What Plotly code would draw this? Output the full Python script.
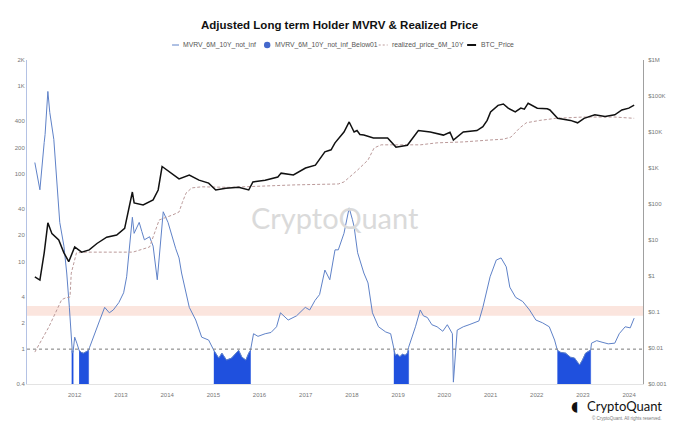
import plotly.graph_objects as go
import math

# ---------------- data ----------------
MVRV_DATES = [
    "2011-02-20", "2011-04-01", "2011-05-05", "2011-05-12", "2011-06-03", "2011-06-18",
    "2011-07-20", "2011-08-05", "2011-09-05", "2011-10-08", "2011-10-30", "2011-11-20",
    "2011-12-08", "2011-12-14", "2011-12-20", "2012-01-01", "2012-01-18", "2012-02-05",
    "2012-02-20", "2012-03-10", "2012-03-30", "2012-04-20", "2012-04-28", "2012-06-05",
    "2012-07-15", "2012-08-25", "2012-10-01", "2012-11-01", "2012-12-15", "2013-01-22",
    "2013-02-15", "2013-03-05", "2013-04-01", "2013-04-15", "2013-05-25", "2013-06-15",
    "2013-07-05", "2013-08-15", "2013-09-12", "2013-10-15", "2013-10-30", "2013-12-01",
    "2014-01-08", "2014-02-15", "2014-03-10", "2014-04-05", "2014-04-25", "2014-06-25",
    "2014-08-15", "2014-10-01", "2014-11-25", "2015-01-05", "2015-02-13", "2015-03-10",
    "2015-04-15", "2015-05-25", "2015-07-05", "2015-07-20", "2015-08-15", "2015-09-15",
    "2015-10-08", "2015-10-22", "2015-11-15", "2015-12-20", "2016-02-15", "2016-04-01",
    "2016-05-15", "2016-06-15", "2016-08-15", "2016-10-20", "2016-12-28", "2017-02-01",
    "2017-03-15", "2017-04-20", "2017-06-01", "2017-07-10", "2017-08-20", "2017-09-15",
    "2017-10-30", "2017-12-10", "2018-01-05", "2018-01-18", "2018-02-15", "2018-03-10",
    "2018-04-05", "2018-05-08", "2018-06-12", "2018-07-30", "2018-09-25", "2018-11-03",
    "2018-11-28", "2018-12-10", "2018-12-25", "2019-01-15", "2019-02-05", "2019-02-25",
    "2019-03-15", "2019-03-25", "2019-05-18", "2019-06-25", "2019-07-20", "2019-08-20",
    "2019-09-25", "2019-11-05", "2019-12-20", "2020-01-25", "2020-03-05", "2020-03-13",
    "2020-04-12", "2020-05-30", "2020-07-15", "2020-08-20", "2020-10-01", "2020-11-01",
    "2020-12-01", "2020-12-28", "2021-02-15", "2021-03-25", "2021-05-05", "2021-06-02",
    "2021-07-18", "2021-09-12", "2021-11-05", "2021-12-25", "2022-02-15", "2022-04-10",
    "2022-05-22", "2022-06-13", "2022-07-08", "2022-08-17", "2022-09-24", "2022-10-27",
    "2022-12-05", "2022-12-28", "2023-01-22", "2023-02-24", "2023-03-03", "2023-03-10",
    "2023-04-20", "2023-06-01", "2023-07-20", "2023-09-10", "2023-10-15", "2023-12-01",
    "2024-01-10", "2024-02-10",
]
MVRV_VALUES = [
    135, 66, 229, 282, 875, 505,
    248, 112, 28, 15, 7.4, 3.0,
    0.97, 0.9, 0.95, 1.37, 1.17, 0.97,
    0.92, 0.9, 0.93, 0.97, 1.05, 1.5,
    2.1, 3.0, 2.6, 2.8, 3.4, 4.4,
    6.7, 12.6, 32, 21, 28, 22,
    17.7, 19.2, 15, 6.2, 10.4, 37,
    28, 17.7, 14, 11, 7.4, 3.0,
    2.15, 1.37, 1.27, 0.97, 0.79, 0.9,
    0.75, 0.79, 0.9, 0.97, 0.81, 0.75,
    0.9, 0.97, 1.5, 1.4, 1.5, 1.55,
    1.8, 2.6, 2.15, 2.4, 3.0, 2.8,
    3.6, 4.2, 8.0, 6.2, 13.6, 13.6,
    21, 41, 30, 25, 12.6, 10,
    7.4, 5.7, 2.6, 1.8, 1.57, 1.5,
    0.97, 0.85, 0.88, 0.82, 0.88, 0.85,
    0.9, 1.05, 1.8, 2.8, 2.4, 2.3,
    1.9, 1.8, 1.6, 1.9, 1.5, 0.42,
    1.65, 1.8, 1.9, 2.0, 2.1, 3.0,
    4.6, 6.7, 10.4, 11, 8.7, 5.1,
    3.9, 3.5, 2.8, 2.15, 2.0, 1.8,
    1.27, 0.97, 0.92, 0.9, 0.81, 0.79,
    0.66, 0.75, 0.9, 0.97, 0.97, 1.17,
    1.25, 1.2, 1.15, 1.17, 1.5, 1.8,
    1.75, 2.26,
]

# periods where MVRV is below 1 (drawn as blue filled columns)
BELOW01_SEGMENTS_DATES = [
    ["2011-12-08", "2011-12-14", "2011-12-20"],
    ["2012-02-05", "2012-02-20", "2012-03-10", "2012-03-30", "2012-04-20"],
    ["2015-01-05", "2015-02-13", "2015-03-10", "2015-04-15", "2015-05-25", "2015-07-05",
     "2015-07-20", "2015-08-15", "2015-09-15", "2015-10-08", "2015-10-22"],
    ["2018-11-28", "2018-12-10", "2018-12-25", "2019-01-15", "2019-02-05", "2019-02-25",
     "2019-03-15", "2019-03-25"],
    ["2022-06-13", "2022-07-08", "2022-08-17", "2022-09-24", "2022-10-27", "2022-12-05",
     "2022-12-28", "2023-01-22", "2023-02-24", "2023-03-03"],
]
BELOW01_SEGMENTS_VALUES = [
    [0.97, 0.9, 0.95],
    [0.97, 0.92, 0.9, 0.93, 0.97],
    [0.97, 0.79, 0.9, 0.75, 0.79, 0.9, 0.97, 0.81, 0.75, 0.9, 0.97],
    [0.97, 0.85, 0.88, 0.82, 0.88, 0.85, 0.9, 0.97],
    [0.97, 0.92, 0.9, 0.81, 0.79, 0.66, 0.75, 0.9, 0.97, 0.97],
]

BTC_DATES = [
    "2011-02-20", "2011-04-01", "2011-05-05", "2011-06-03", "2011-07-05", "2011-08-28",
    "2011-10-08", "2011-11-15", "2012-01-01", "2012-02-25", "2012-04-25", "2012-06-25",
    "2012-09-10", "2012-11-28", "2013-01-30", "2013-03-05", "2013-04-01", "2013-04-15",
    "2013-06-25", "2013-09-12", "2013-10-22", "2013-11-22", "2014-01-18", "2014-02-25",
    "2014-04-05", "2014-06-25", "2014-09-10", "2014-11-25", "2015-01-20", "2015-04-10",
    "2015-07-20", "2015-10-08", "2015-11-10", "2016-02-15", "2016-05-25", "2016-06-20",
    "2016-09-25", "2016-12-30", "2017-03-18", "2017-06-01", "2017-07-20", "2017-08-20",
    "2017-10-30", "2017-12-10", "2018-01-18", "2018-02-10", "2018-03-05", "2018-04-05",
    "2018-06-20", "2018-10-10", "2018-12-15", "2019-03-15", "2019-06-10", "2019-09-12",
    "2019-12-25", "2020-02-15", "2020-03-13", "2020-05-30", "2020-09-15", "2020-11-01",
    "2020-12-05", "2021-01-01", "2021-03-01", "2021-04-12", "2021-05-20", "2021-07-15",
    "2021-08-28", "2021-09-25", "2021-10-25", "2022-01-05", "2022-03-25", "2022-04-15",
    "2022-06-15", "2022-09-25", "2022-11-20", "2023-01-10", "2023-04-05", "2023-06-25",
    "2023-09-10", "2023-11-05", "2023-12-30", "2024-02-10",
]
BTC_VALUES = [
    0.94, 0.77, 4.4, 30, 15, 10,
    4.4, 2.5, 6.4, 4.6, 5.3, 8,
    12, 13.7, 21, 83, 215, 107,
    94, 130, 245, 1100, 780, 600,
    500, 640, 460, 380, 245, 275,
    290, 245, 410, 460, 560, 720,
    640, 1000, 1200, 2800, 3200, 5000,
    10000, 19000, 10000, 11000, 8500, 8200,
    6800, 6800, 3800, 4300, 11000, 10000,
    8200, 9800, 6000, 10000, 11000, 14000,
    21000, 36000, 55000, 60000, 46000, 36000,
    46000, 43000, 63000, 46000, 44000, 41000,
    24000, 21000, 18000, 24000, 30000, 27000,
    30000, 41000, 46000, 56000,
]

REALIZED_DATES = [
    "2011-02-20", "2011-06-10", "2011-09-20", "2011-10-25", "2011-11-25", "2011-12-05",
    "2012-01-15", "2012-04-05", "2012-10-01", "2013-04-05", "2013-08-15", "2013-10-30",
    "2014-02-15", "2014-04-05", "2014-05-01", "2014-05-30", "2014-07-15", "2014-09-30",
    "2015-05-05", "2016-01-20", "2016-10-10", "2017-09-15", "2017-10-30", "2018-02-15",
    "2018-05-08", "2018-06-25", "2018-08-20", "2018-12-28", "2019-06-25", "2019-11-05",
    "2020-05-30", "2020-12-28", "2021-04-10", "2021-06-10", "2021-08-20", "2021-10-10",
    "2022-01-25", "2022-06-01", "2022-12-28", "2023-09-10", "2024-02-10",
]
REALIZED_VALUES = [
    0.0077, 0.038, 0.22, 0.25, 0.26, 1.2,
    4.4, 4.6, 4.6, 4.6, 6.4, 36,
    50, 60, 110, 200, 280, 300,
    290, 320, 340, 360, 410, 880,
    1670, 3600, 4400, 4400, 4400, 5000,
    5300, 6000, 6300, 7200, 13000, 18000,
    21000, 24000, 26000, 26000, 24000,
]

YEAR_TICKS = [f"{y}-01-01" for y in range(2012, 2025)]
YEAR_TICK_TEXT = [str(y) for y in range(2012, 2025)]
LEFT_TICKS = [0.4, 1, 2, 4, 10, 20, 40, 100, 200, 400, 1000, 2000]
LEFT_TICK_TEXT = ["0.4", "1", "2", "4", "10", "20", "40", "100", "200", "400", "1K", "2K"]
RIGHT_TICKS = [0.001, 0.01, 0.1, 1, 10, 100, 1000, 10000, 100000, 1000000]
RIGHT_TICK_TEXT = ["$0.001", "$0.01", "$0.1", "$1", "$10", "$100", "$1K", "$10K", "$100K", "$1M"]

LEFT_MIN, LEFT_MAX = 0.4, 2000
RIGHT_MIN, RIGHT_MAX = 0.001, 1000000
BAND_LOW, BAND_HIGH = 2.4, 3.1
BASELINE = 1

TITLE = "Adjusted Long term Holder MVRV & Realized Price"
LEGEND_NAMES = ["MVRV_6M_10Y_not_inf", "MVRV_6M_10Y_not_inf_Below01",
                "realized_price_6M_10Y", "BTC_Price"]

C_MVRV = "#5f82c8"
C_BELOW = "#1f50de"
C_REAL = "#bb9a9a"
C_BTC = "#111111"

# ---------------- figure ----------------
FONT = "Liberation Sans, Arial, sans-serif"
W, H = 679, 428
ML, MR, MT, MB = 27, 32, 60, 44
PW, PH = W - ML - MR, H - MT - MB


def px(xp):
    return (xp - ML) / PW


def py(yp):
    return 1 + (MT - yp) / PH


fig = go.Figure()

# below-1 filled columns (closed polygons down to the axis floor)
bx, by = [], []
for d, v in zip(BELOW01_SEGMENTS_DATES, BELOW01_SEGMENTS_VALUES):
    bx += d + [d[-1], d[0], None]
    by += v + [LEFT_MIN, LEFT_MIN, None]
fig.add_trace(go.Scatter(
    x=bx, y=by, mode="lines", fill="toself", fillcolor=C_BELOW,
    line=dict(color=C_BELOW, width=0.5), name=LEGEND_NAMES[1], hoverinfo="skip",
))
fig.add_trace(go.Scatter(
    x=MVRV_DATES, y=MVRV_VALUES, mode="lines", name=LEGEND_NAMES[0],
    line=dict(color=C_MVRV, width=1),
))
fig.add_trace(go.Scatter(
    x=REALIZED_DATES, y=REALIZED_VALUES, mode="lines", name=LEGEND_NAMES[2],
    line=dict(color=C_REAL, width=1, dash="3px,2px"), yaxis="y2",
))
fig.add_trace(go.Scatter(
    x=BTC_DATES, y=BTC_VALUES, mode="lines", name=LEGEND_NAMES[3],
    line=dict(color=C_BTC, width=1.5), yaxis="y2",
))

fig.add_hrect(y0=BAND_LOW, y1=BAND_HIGH, fillcolor="#f9dcd3", opacity=0.75,
              line_width=0, layer="below")
fig.add_hline(y=BASELINE, line=dict(color="#7a7a7a", width=1, dash="dot"))

fig.update_layout(
    width=W, height=H,
    margin=dict(l=ML, r=MR, t=MT, b=MB),
    paper_bgcolor="white", plot_bgcolor="white",
    font=dict(family=FONT, color="#555"),
    title=dict(text="<b>" + TITLE + "</b>", x=0.5, xanchor="center",
               y=1 - 25 / H, yanchor="middle",
               font=dict(size=11.5, color="#111", family=FONT)),
    showlegend=False,
    xaxis=dict(type="date", range=["2010-12-20", "2024-04-20"],
               tickvals=YEAR_TICKS, ticktext=YEAR_TICK_TEXT,
               showgrid=False, showline=True, ticklabelstandoff=5,
               linecolor="#e3e3e3", ticks="", tickfont=dict(size=6, color="#777"),
               zeroline=False),
    yaxis=dict(type="log", range=[math.log10(LEFT_MIN), math.log10(LEFT_MAX)],
               tickvals=LEFT_TICKS, ticktext=LEFT_TICK_TEXT, showgrid=False,
               showline=True, linecolor="#b4c2e4", ticks="",
               tickfont=dict(size=6, color="#777"), zeroline=False),
    yaxis2=dict(type="log", overlaying="y", side="right",
                range=[math.log10(RIGHT_MIN), math.log10(RIGHT_MAX)],
                tickvals=RIGHT_TICKS, ticktext=RIGHT_TICK_TEXT, showgrid=False,
                showline=True, linecolor="#a0a0a0", ticks="", ticklabelstandoff=3,
                tickfont=dict(size=6, color="#777"), zeroline=False),
)

# ---- manual compact legend ----
LY = py(45)
legend_font = dict(size=6.8, color="#555", family=FONT)
fig.add_shape(type="line", xref="paper", yref="paper", x0=px(173), x1=px(180), y0=LY, y1=LY,
              line=dict(color=C_MVRV, width=1))
fig.add_annotation(text=LEGEND_NAMES[0], xref="paper", yref="paper", x=px(182), y=LY,
                   xanchor="left", yanchor="middle", showarrow=False, font=legend_font)
fig.add_shape(type="circle", xref="paper", yref="paper", x0=px(265.5), x1=px(272),
              y0=py(48.3), y1=py(41.7), line=dict(color="#4468cc", width=0), fillcolor="#4468cc")
fig.add_annotation(text=LEGEND_NAMES[1], xref="paper", yref="paper", x=px(275), y=LY,
                   xanchor="left", yanchor="middle", showarrow=False, font=legend_font)
fig.add_shape(type="line", xref="paper", yref="paper", x0=px(381), x1=px(390), y0=LY, y1=LY,
              line=dict(color=C_REAL, width=1, dash="2px,2px"))
fig.add_annotation(text=LEGEND_NAMES[2], xref="paper", yref="paper", x=px(392), y=LY,
                   xanchor="left", yanchor="middle", showarrow=False, font=legend_font)
fig.add_shape(type="line", xref="paper", yref="paper", x0=px(470), x1=px(479), y0=LY, y1=LY,
              line=dict(color=C_BTC, width=2))
fig.add_annotation(text=LEGEND_NAMES[3], xref="paper", yref="paper", x=px(482), y=LY,
                   xanchor="left", yanchor="middle", showarrow=False, font=legend_font)

# watermark
fig.add_annotation(text="CryptoQuant", xref="paper", yref="paper", x=0.5, y=py(218),
                   yanchor="middle", showarrow=False,
                   font=dict(size=29, color="#dadada", family="Lato, sans-serif"))
# logo bottom-right
fig.add_annotation(text="<b>◖</b>", xref="paper", yref="paper", x=px(584), y=py(406),
                   xanchor="right", yanchor="middle", showarrow=False,
                   font=dict(size=14, color="#111", family="DejaVu Sans"))
fig.add_annotation(text="CryptoQuant", xref="paper", yref="paper", x=px(668), y=py(406),
                   xanchor="right", yanchor="middle", showarrow=False,
                   font=dict(size=13, color="#111", family="Lato, sans-serif"))
fig.add_annotation(text="© CryptoQuant. All rights reserved.", xref="paper", yref="paper",
                   x=px(668), y=py(418), xanchor="right", yanchor="middle", showarrow=False,
                   font=dict(size=4.5, color="#777", family=FONT))

fig.write_html("out.html")
